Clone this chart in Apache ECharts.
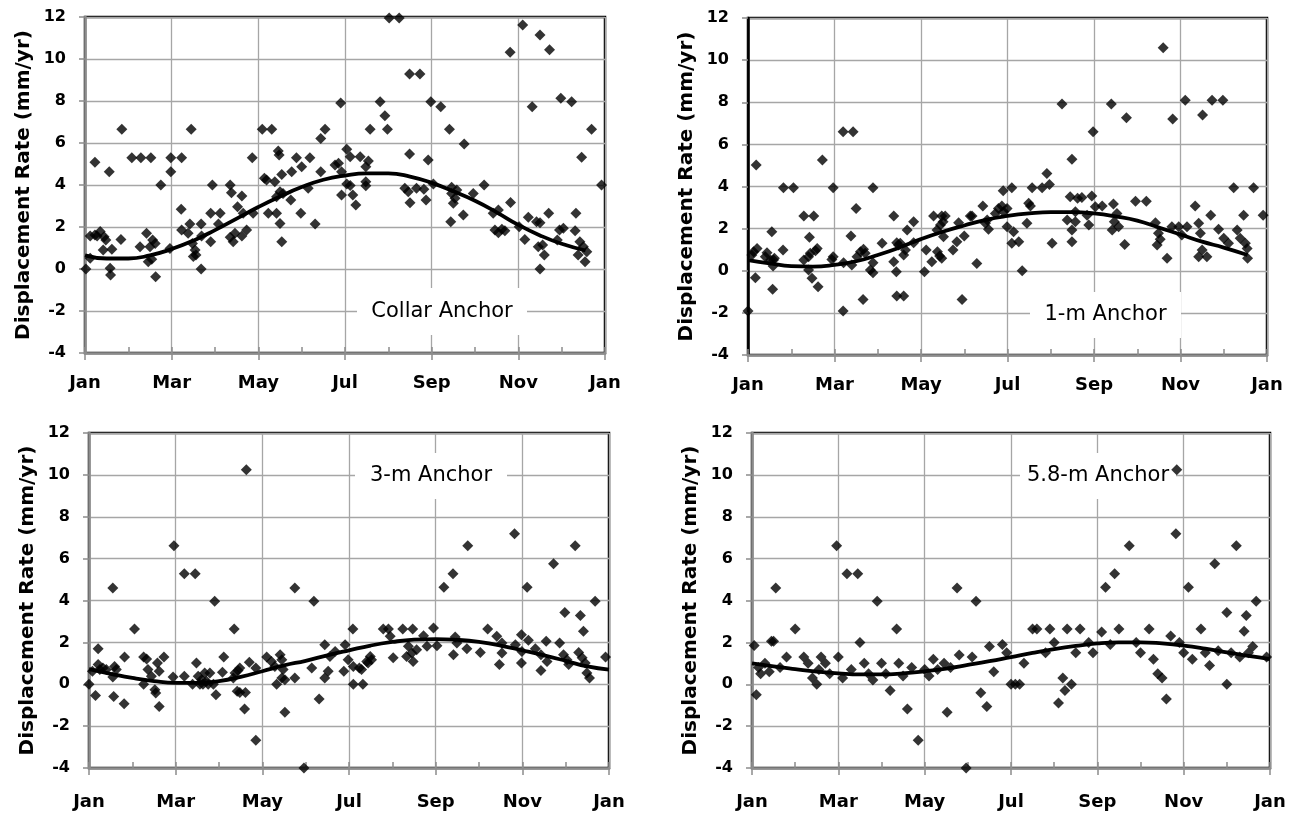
<!DOCTYPE html>
<html><head><meta charset="utf-8">
<script src="https://cdn.jsdelivr.net/npm/echarts@6/dist/echarts.min.js"></script>
<style>html,body{margin:0;padding:0;background:#fff}#c{width:1297px;height:818px}</style>
</head><body><div id="c"></div>
<script>
// ---------- data ----------
const monthLabels = ['Jan','Mar','May','Jul','Sep','Nov','Jan'];
const panelTitles = ['Collar Anchor','1-m Anchor','3-m Anchor','5.8-m Anchor'];
const yAxisTitle = 'Displacement Rate (mm/yr)';

// [month since Jan 1, displacement rate mm/yr]
const collarPoints = [
[0.02,0],[0.12,0.51],[0.12,1.57],[0.23,1.62],[0.35,1.78],[0.28,1.57],[0.44,1.54],[0.48,1.38],[0.42,0.9],[0.58,0.03],
[0.59,-0.29],[0.62,0.94],[0.83,1.41],[0.23,5.08],[0.56,4.63],[0.85,6.65],[1.08,5.3],[1.29,5.3],[1.52,5.3],[1.27,1.06],
[1.42,1.7],[1.46,0.35],[1.54,0.46],[1.5,1.06],[1.56,1.38],[1.62,1.22],[1.63,-0.37],[1.75,4.0],[1.96,0.98],[1.98,5.3],
[1.98,4.63],[2.23,5.3],[2.45,6.65],[2.22,2.84],[2.23,1.86],[2.38,1.7],[2.42,2.14],[2.48,1.22],[2.54,0.9],[2.56,0.67],
[2.5,0.59],[2.68,0],[2.68,2.14],[2.69,1.57],[2.9,1.3],[2.94,4.0],[2.9,2.65],[3.12,2.65],[3.08,2.14],[3.35,4.0],
[3.38,3.63],[3.35,1.51],[3.42,1.3],[3.46,1.7],[3.52,2.97],[3.62,3.48],[3.62,1.57],[3.73,1.86],[3.65,2.65],[3.86,5.3],
[3.88,2.65],[4.09,6.65],[4.31,6.65],[4.14,4.32],[4.23,2.65],[4.42,2.65],[4.5,2.17],[4.54,1.3],[4.42,3.44],[4.5,3.68],
[4.57,3.6],[4.38,4.16],[4.19,4.24],[4.46,5.62],[4.48,5.43],[4.54,4.5],[4.75,3.29],[4.77,4.63],[4.88,5.3],[4.98,2.65],
[5.0,4.87],[5.15,3.84],[5.19,5.3],[5.31,2.14],[5.44,6.22],[5.54,6.65],[5.44,4.63],[5.9,7.9],[5.77,4.95],[5.85,5.03],
[5.92,4.63],[5.92,3.52],[6.04,5.7],[6.12,5.35],[6.04,4.05],[6.12,3.98],[6.18,3.52],[6.25,3.05],[6.35,5.35],[6.54,5.14],
[6.48,4.87],[6.48,4.16],[6.48,3.97],[6.58,6.65],[6.81,7.97],[6.92,7.3],[6.98,6.65],[7.02,11.95],[7.25,11.95],[7.38,3.84],
[7.46,3.68],[7.5,3.16],[7.49,9.29],[7.49,5.48],[7.65,3.84],[7.73,9.29],[7.82,3.8],[7.87,3.29],[7.92,5.19],[7.98,7.97],
[8.04,4.05],[8.21,7.73],[8.41,6.65],[8.44,2.25],[8.46,3.6],[8.5,3.13],[8.54,3.37],[8.58,3.76],[8.46,3.89],[8.73,2.57],
[8.75,5.95],[8.96,3.6],[9.21,4.0],[9.42,2.65],[9.54,2.81],[9.46,1.86],[9.62,1.89],[9.69,1.82],[9.54,1.73],[9.81,10.32],
[9.82,3.17],[10.02,2.01],[10.1,11.62],[10.15,1.41],[10.23,2.46],[10.32,7.73],[10.42,2.25],[10.5,2.2],[10.46,1.06],[10.56,1.14],
[10.6,0.67],[10.5,0],[10.5,11.14],[10.7,2.65],[10.72,10.44],[10.95,1.86],[11.04,1.94],[10.9,1.38],[10.98,8.13],[11.23,7.97],
[11.33,2.65],[11.31,1.82],[11.42,1.3],[11.5,1.06],[11.38,0.67],[11.54,0.35],[11.58,0.82],[11.46,5.32],[11.69,6.65],[11.92,4.0]
];
const oneMPoints = [
[0,-1.91],[0.17,-0.33],[0.09,0.75],[0.21,1.06],[0.13,0.9],[0.19,5.02],[0.44,0.85],[0.4,0.66],[0.52,0.51],[0.55,1.85],
[0.59,0.51],[0.58,0.22],[0.61,0.59],[0.57,-0.88],[0.81,0.98],[0.82,3.94],[1.05,3.94],[1.29,2.6],[1.52,2.6],[1.42,1.59],
[1.29,0.51],[1.4,0.66],[1.44,0.83],[1.4,0.03],[1.48,-0.36],[1.62,-0.76],[1.56,0.95],[1.6,1.06],[1.72,5.26],[1.97,3.94],
[1.97,0.66],[1.94,0.54],[2.2,6.6],[2.43,6.6],[2.2,-1.91],[2.21,0.38],[2.4,0.27],[2.38,1.65],[2.5,2.96],[2.52,0.66],
[2.6,0.9],[2.67,1.02],[2.71,0.83],[2.66,-1.36],[2.83,0.03],[2.89,-0.1],[2.89,0.38],[2.89,3.94],[3.1,1.3],[3.37,2.6],
[3.37,0.43],[3.43,-0.05],[3.44,1.33],[3.48,1.22],[3.52,1.3],[3.44,-1.2],[3.6,-1.2],[3.6,0.75],[3.64,0.98],[3.68,1.93],
[3.83,2.33],[3.83,1.33],[4.08,-0.05],[4.12,0.98],[4.25,0.43],[4.29,2.6],[4.48,2.6],[4.56,2.6],[4.37,1.93],[4.45,2.17],
[4.51,2.33],[4.38,0.9],[4.48,0.59],[4.43,0.7],[4.52,1.61],[4.74,0.98],[4.83,1.38],[4.87,2.28],[4.95,-1.36],[5.0,1.65],
[5.14,2.6],[5.18,2.6],[5.29,0.35],[5.43,3.07],[5.53,2.41],[5.56,1.97],[5.49,2.25],[5.72,2.72],[5.79,2.96],[5.87,3.07],
[5.99,2.96],[5.91,2.8],[5.9,3.8],[6.1,3.94],[5.99,2.09],[6.14,1.85],[6.1,1.3],[6.26,1.38],[6.34,0],[6.49,3.2],
[6.53,3.07],[6.45,2.25],[6.57,3.94],[6.8,3.94],[6.91,4.62],[6.97,4.1],[7.03,1.3],[7.26,7.92],[7.45,3.51],[7.57,2.8],
[7.62,3.44],[7.72,3.48],[7.95,3.55],[7.49,5.29],[7.38,2.41],[7.49,1.93],[7.49,1.38],[7.57,2.33],[7.84,2.64],[7.88,2.17],
[7.98,6.6],[8.03,3.04],[8.19,3.07],[8.4,7.92],[8.45,3.17],[8.42,1.93],[8.47,2.33],[8.53,2.72],[8.57,2.09],[8.71,1.25],
[8.75,7.27],[8.96,3.3],[9.21,3.3],[9.42,2.28],[9.49,1.78],[9.46,1.22],[9.53,1.49],[9.6,10.59],[9.69,0.59],[9.8,2.09],
[9.82,7.2],[9.96,2.09],[10.03,1.7],[10.11,8.1],[10.15,2.09],[10.34,3.07],[10.42,2.25],[10.46,1.78],[10.5,0.98],[10.42,0.66],
[10.61,0.66],[10.51,7.39],[10.7,2.64],[10.73,8.1],[10.88,1.97],[11.0,1.54],[10.98,8.1],[11.11,1.3],[11.23,3.94],[11.31,1.93],
[11.38,1.54],[11.46,2.64],[11.5,1.3],[11.54,1.06],[11.55,0.59],[11.69,3.94],[11.91,2.64]
];
const threeMPoints = [
[0,0],[0.15,-0.54],[0.08,0.62],[0.21,1.69],[0.21,0.94],[0.32,0.78],[0.25,0.7],[0.4,0.7],[0.55,0.35],[0.59,0.85],
[0.63,0.7],[0.57,-0.58],[0.55,4.6],[0.82,1.3],[0.81,-0.93],[1.05,2.64],[1.26,1.3],[1.33,1.21],[1.36,0.7],[1.44,0.38],
[1.26,0],[1.52,-0.26],[1.54,-0.42],[1.62,-1.06],[1.58,1.02],[1.62,0.62],[1.73,1.3],[1.94,0.35],[1.96,6.62],[2.2,0.38],
[2.2,5.28],[2.45,5.28],[2.39,0],[2.48,1.02],[2.52,0.38],[2.56,0],[2.6,0.22],[2.63,0],[2.67,0.54],[2.71,0.14],
[2.75,0],[2.79,0.54],[2.87,0],[2.9,3.96],[2.93,-0.5],[3.11,1.3],[3.08,0.57],[3.35,2.64],[3.33,0.3],[3.37,0.54],
[3.44,0.66],[3.48,0.78],[3.42,-0.34],[3.48,-0.39],[3.61,-0.39],[3.59,-1.18],[3.63,10.25],[3.7,1.05],[3.85,0.78],[3.85,-2.68],
[4.1,1.3],[4.21,1.09],[4.29,0.85],[4.33,0],[4.41,1.41],[4.45,1.17],[4.48,0.7],[4.45,0.3],[4.52,0.22],[4.52,-1.34],
[4.75,4.6],[4.75,0.3],[4.96,-4.0],[5.14,0.78],[5.19,3.96],[5.31,-0.7],[5.44,1.89],[5.44,0.3],[5.52,0.62],[5.56,1.33],
[5.68,1.57],[5.91,1.89],[5.88,0.62],[5.98,1.17],[6.1,0.85],[6.24,0.78],[6.29,0.7],[6.1,0],[6.32,0],[6.09,2.64],
[6.41,1.09],[6.49,1.33],[6.52,1.17],[6.44,1.02],[6.79,2.64],[6.91,2.64],[6.95,2.29],[7.02,1.26],[7.24,2.64],[7.47,2.64],
[7.37,1.81],[7.45,1.49],[7.33,1.33],[7.48,1.09],[7.56,1.65],[7.72,2.32],[7.8,1.81],[7.95,2.69],[8.03,1.84],[8.19,4.63],
[8.4,5.28],[8.45,2.26],[8.49,1.97],[8.41,1.41],[8.72,1.69],[8.74,6.62],[9.03,1.52],[9.2,2.64],[9.41,2.29],[9.53,1.97],
[9.53,1.49],[9.47,0.94],[9.82,7.19],[9.84,1.89],[9.98,2.37],[10.14,2.1],[9.99,1.57],[9.98,1.02],[10.11,4.63],[10.3,1.69],
[10.43,1.41],[10.43,0.66],[10.57,1.09],[10.55,2.05],[10.72,5.76],[10.86,1.97],[10.98,3.43],[10.95,1.41],[11.03,1.17],[11.07,0.94],
[11.22,6.62],[11.3,1.52],[11.34,3.28],[11.38,1.26],[11.41,2.53],[11.45,1.02],[11.49,0.54],[11.55,0.3],[11.68,3.96],[11.92,1.3]
];
const fiveEightMPoints = [
[0.05,1.85],[0.1,-0.5],[0.15,0.8],[0.2,0.5],[0.3,1.0],[0.4,0.6],[0.45,2.05],[0.5,2.05],[0.55,4.6],[0.65,0.8],
[0.8,1.3],[1.0,2.64],[1.2,1.3],[1.3,1.0],[1.4,0.3],[1.5,0.0],[1.55,0.7],[1.6,1.3],[1.7,1.0],[1.8,0.5],
[1.96,6.62],[2.0,1.3],[2.1,0.3],[2.2,5.28],[2.3,0.7],[2.45,5.28],[2.5,2.0],[2.6,1.0],[2.7,0.5],[2.8,0.2],
[2.9,3.96],[3.0,1.0],[3.1,0.5],[3.2,-0.3],[3.35,2.64],[3.4,1.0],[3.5,0.4],[3.6,-1.18],[3.7,0.8],[3.85,-2.68],
[4.0,0.7],[4.1,0.4],[4.2,1.2],[4.3,0.7],[4.45,1.0],[4.52,-1.34],[4.6,0.8],[4.75,4.6],[4.8,1.4],[4.96,-4.0],
[5.1,1.3],[5.19,3.96],[5.3,-0.4],[5.44,-1.06],[5.5,1.8],[5.6,0.6],[5.8,1.9],[5.9,1.5],[6.0,0],[6.1,0],
[6.2,0],[6.3,1.0],[6.5,2.64],[6.6,2.64],[6.8,1.5],[6.9,2.64],[7.0,2.0],[7.1,-0.9],[7.2,0.3],[7.25,-0.3],
[7.3,2.64],[7.4,0],[7.5,1.5],[7.6,2.64],[7.8,2.0],[7.9,1.5],[8.1,2.5],[8.19,4.63],[8.3,1.9],[8.4,5.28],
[8.5,2.64],[8.74,6.62],[8.9,2.0],[9.0,1.5],[9.2,2.64],[9.3,1.2],[9.4,0.5],[9.5,0.3],[9.6,-0.7],[9.7,2.3],
[9.82,7.19],[9.9,2.0],[10.0,1.5],[10.11,4.63],[10.2,1.2],[10.4,2.64],[10.5,1.5],[10.6,0.9],[10.72,5.76],[10.8,1.6],
[9.84,10.25],[11.0,3.43],[11.0,0],[11.1,1.5],[11.22,6.62],[11.3,1.3],[11.4,2.53],[11.45,3.28],[11.5,1.5],[11.6,1.8],
[11.68,3.96],[11.92,1.3]
];

// fitted seasonal trend curves
const fitMonths   = [0,0.5,1,1.5,2,2.5,3,3.5,4,4.5,5,5.5,6,6.5,7,7.5,8,8.5,9,9.5,10,10.5,11,11.55];
const collarFit   = [0.65,0.5,0.5,0.65,0.95,1.35,1.85,2.4,2.95,3.45,3.9,4.25,4.45,4.55,4.55,4.4,4.1,3.7,3.25,2.7,2.1,1.6,1.2,0.88];
const oneMFit     = [0.5,0.35,0.22,0.2,0.28,0.45,0.75,1.1,1.5,1.85,2.15,2.42,2.6,2.72,2.78,2.78,2.72,2.58,2.38,2.05,1.72,1.38,1.1,0.75];
const fitMonthsFull = [0,0.5,1,1.5,2,2.5,3,3.5,4,4.5,5,5.5,6,6.5,7,7.5,8,8.5,9,9.5,10,10.5,11,11.5,12];
const threeMFit   = [0.72,0.5,0.3,0.15,0.07,0.07,0.15,0.35,0.62,0.9,1.12,1.38,1.62,1.85,2.02,2.13,2.16,2.12,2.02,1.85,1.62,1.38,1.12,0.85,0.7];
const fiveEightMFit = [1.0,0.85,0.72,0.6,0.52,0.47,0.47,0.52,0.62,0.75,0.92,1.1,1.3,1.5,1.68,1.83,1.95,2.0,2.0,1.95,1.85,1.7,1.52,1.35,1.2];

// ---------- chart ----------
const panels = [
  {pts: collarPoints, fx: fitMonths, fy: collarFit},
  {pts: oneMPoints, fx: fitMonths, fy: oneMFit},
  {pts: threeMPoints, fx: fitMonthsFull, fy: threeMFit},
  {pts: fiveEightMPoints, fx: fitMonthsFull, fy: fiveEightMFit}
];
const gridBoxes = [
  {left:85, top:17, width:520, height:336},
  {left:748, top:18, width:519, height:337},
  {left:89, top:433, width:520, height:335},
  {left:752, top:433, width:518, height:335}
];
const labelMargins = [21, 21, 25, 25];
const titleBoxes = [
  {x:357, y:288, w:170, h:47},
  {x:1030, y:292, w:151, h:46},
  {x:355, y:453, w:152, h:46},
  {x:1020, y:453, w:156, h:46}
];
const FONT = 'DejaVu Sans';
const GRAYAX = '#8c8c8c';
const grid = [], xAxis = [], yAxis = [], series = [], graphic = [];
gridBoxes.forEach((g, i) => {
  grid.push(Object.assign({show:true, borderColor:'#000', borderWidth:2.5, backgroundColor:'#fff', outerBoundsMode:'none'}, g));
  xAxis.push({
    gridIndex:i, type:'value', min:0, max:12, interval:2, position:'bottom',
    axisLine:{show:true, onZero:false, lineStyle:{color:GRAYAX, width:2.5}},
    axisTick:{show:true, inside:false, length:7, lineStyle:{color:GRAYAX, width:1.5}},
    axisLabel:{margin:labelMargins[i], color:'#000', fontFamily:FONT, fontWeight:'bold', fontSize:18,
      formatter: v => monthLabels[Math.round(v/2)]},
    splitLine:{show:true, lineStyle:{color:'#a6a6a6', width:1.3}}
  });
  xAxis.push({
    gridIndex:i, type:'value', min:0, max:12, interval:1, position:'bottom',
    axisLine:{show:false, onZero:false}, axisLabel:{show:false}, splitLine:{show:false},
    axisTick:{show:true, inside:true, length:6, lineStyle:{color:GRAYAX, width:1.5}}
  });
  yAxis.push({
    gridIndex:i, type:'value', min:-4, max:12, interval:2,
    name: yAxisTitle, nameLocation:'middle', nameGap:51,
    nameTextStyle:{color:'#000', fontFamily:FONT, fontWeight:'bold', fontSize:20},
    axisLine:{show:true, onZero:false, lineStyle:{color: i===1 ? '#000' : GRAYAX, width:2.5}},
    axisTick:{show:true, length:6, lineStyle:{color:GRAYAX, width:1.5}},
    axisLabel:{margin:19, color:'#000', fontFamily:FONT, fontWeight:'bold', fontSize:16},
    splitLine:{show:true, lineStyle:{color:'#a6a6a6', width:1.3}}
  });
  const p = panels[i];
  series.push({
    type:'scatter', xAxisIndex:2*i, yAxisIndex:i, data:p.pts, symbol:'diamond',
    symbolSize:[11,11], itemStyle:{color:'#000'}, clip:false, z:3, silent:true
  });
  series.push({
    type:'line', xAxisIndex:2*i, yAxisIndex:i, data:p.fx.map((m,k)=>[m,p.fy[k]]),
    smooth:true, showSymbol:false, symbol:'none', lineStyle:{color:'#000', width:3.8}, z:4, silent:true
  });
  const t = titleBoxes[i];
  graphic.push({type:'rect', shape:{x:t.x, y:t.y, width:t.w, height:t.h}, style:{fill:'#fff'}, z:1, silent:true});
  graphic.push({type:'text', x:t.x + t.w/2, y:t.y + t.h/2, z:1, silent:true,
    style:{text:panelTitles[i], fill:'#000', font:'21px "DejaVu Sans"', align:'center', verticalAlign:'middle'}});
});
const chart = echarts.init(document.getElementById('c'), null, {renderer:'canvas'});
chart.setOption({animation:false, backgroundColor:'#fff', grid, xAxis, yAxis, series, graphic});
</script></body></html>
